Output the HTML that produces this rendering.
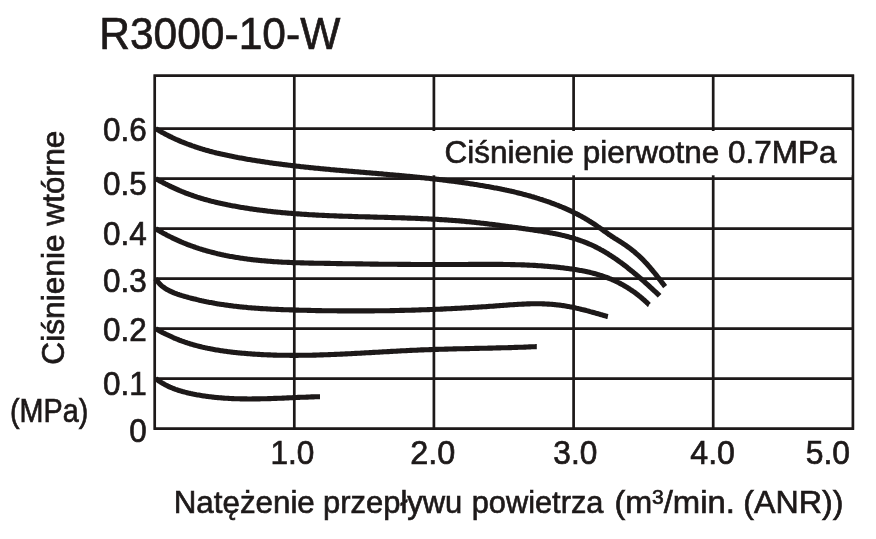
<!DOCTYPE html>
<html><head><meta charset="utf-8"><title>R3000-10-W</title>
<style>
html,body{margin:0;padding:0;background:#fff;}
body{width:876px;height:539px;overflow:hidden;}
svg{display:block;will-change:transform;}
text{font-family:"Liberation Sans",Arial,Helvetica,sans-serif;fill:#1d1919;stroke:#1d1919;stroke-width:0.65px;}
</style></head><body>
<svg width="876" height="539" viewBox="0 0 876 539">
<rect width="876" height="539" fill="#fff"/>
<path d="M154.7 74.4V429.8 M294.3 74.4V429.8 M433.9 74.4V429.8 M573.6 74.4V429.8 M713.2 74.4V429.8 M852.9 74.4V429.8 M153.5 75.6H854.1 M153.5 128.6H854.1 M153.5 178.6H854.1 M153.5 228.6H854.1 M153.5 278.6H854.1 M153.5 328.6H854.1 M153.5 378.6H854.1 M153.5 428.6H854.1" stroke="#1d1919" stroke-width="2.7" fill="none"/>
<rect x="400" y="131.0" width="451.5" height="44.3" fill="#fff"/>
<g stroke="#1d1919" stroke-width="5.1" fill="none" stroke-linecap="butt" stroke-linejoin="round">
<path d="M155.6 128.6 L156.6 129.2 L157.7 129.8 L158.7 130.4 L159.7 131.0 L160.8 131.6 L161.8 132.2 L162.9 132.8 L163.9 133.3 L165.0 133.9 L166.0 134.5 L167.1 135.0 L168.2 135.6 L169.3 136.1 L170.3 136.6 L171.4 137.1 L172.5 137.7 L173.6 138.2 L174.7 138.7 L175.7 139.2 L176.8 139.7 L177.9 140.1 L179.0 140.6 L180.1 141.1 L181.2 141.6 L182.4 142.0 L183.5 142.5 L184.6 142.9 L185.7 143.3 L186.8 143.8 L187.9 144.2 L189.1 144.6 L190.2 145.0 L191.3 145.4 L192.4 145.8 L193.6 146.2 L194.7 146.6 L195.8 147.0 L197.0 147.4 L198.1 147.8 L199.3 148.1 L200.4 148.5 L201.5 148.8 L202.7 149.2 L203.8 149.5 L205.0 149.9 L206.1 150.2 L207.3 150.5 L208.5 150.8 L209.6 151.2 L210.8 151.5 L211.9 151.8 L213.1 152.1 L214.3 152.4 L215.4 152.7 L216.6 153.0 L217.7 153.2 L218.9 153.5 L220.1 153.8 L221.3 154.1 L222.4 154.3 L223.6 154.6 L224.8 154.8 L225.9 155.1 L227.1 155.3 L228.3 155.6 L229.5 155.8 L230.6 156.1 L231.8 156.3 L233.0 156.5 L234.2 156.8 L235.3 157.0 L236.5 157.2 L237.7 157.5 L238.9 157.7 L240.1 157.9 L241.2 158.1 L242.4 158.3 L243.6 158.5 L244.8 158.7 L246.0 159.0 L247.1 159.2 L248.3 159.4 L249.5 159.6 L250.7 159.8 L251.9 160.0 L253.1 160.2 L254.2 160.3 L255.4 160.5 L256.6 160.7 L257.8 160.9 L259.0 161.1 L260.2 161.3 L261.4 161.5 L262.5 161.6 L263.7 161.8 L264.9 162.0 L266.1 162.2 L267.3 162.3 L268.5 162.5 L269.7 162.7 L270.9 162.9 L272.0 163.0 L273.2 163.2 L274.4 163.4 L275.6 163.5 L276.8 163.7 L278.0 163.8 L279.2 164.0 L280.4 164.1 L281.6 164.3 L282.7 164.5 L283.9 164.6 L285.1 164.8 L286.3 164.9 L287.5 165.0 L288.7 165.2 L289.9 165.3 L291.1 165.5 L292.3 165.6 L293.5 165.8 L294.7 165.9 L295.8 166.0 L297.0 166.2 L298.2 166.3 L299.4 166.4 L300.6 166.6 L301.8 166.7 L303.0 166.8 L304.2 167.0 L305.4 167.1 L306.6 167.2 L307.8 167.3 L309.0 167.5 L310.2 167.6 L311.4 167.7 L312.6 167.8 L313.7 168.0 L314.9 168.1 L316.1 168.2 L317.3 168.3 L318.5 168.4 L319.7 168.5 L320.9 168.7 L322.1 168.8 L323.3 168.9 L324.5 169.0 L325.7 169.1 L326.9 169.2 L328.1 169.3 L329.3 169.4 L330.5 169.6 L331.7 169.7 L332.9 169.8 L334.1 169.9 L335.2 170.0 L336.4 170.1 L337.6 170.2 L338.8 170.3 L340.0 170.4 L341.2 170.5 L342.4 170.6 L343.6 170.7 L344.8 170.8 L346.0 170.9 L347.2 171.0 L348.4 171.1 L349.6 171.2 L350.8 171.3 L352.0 171.4 L353.2 171.5 L354.4 171.6 L355.6 171.7 L356.8 171.8 L358.0 171.9 L359.2 172.0 L360.4 172.1 L361.6 172.2 L362.7 172.3 L363.9 172.4 L365.1 172.5 L366.3 172.6 L367.5 172.7 L368.7 172.8 L369.9 172.9 L371.1 173.0 L372.3 173.1 L373.5 173.2 L374.7 173.3 L375.9 173.4 L377.1 173.5 L378.3 173.6 L379.5 173.7 L380.7 173.8 L381.9 173.9 L383.1 174.0 L384.3 174.2 L385.5 174.3 L386.7 174.4 L387.9 174.5 L389.1 174.6 L390.2 174.7 L391.4 174.8 L392.6 174.9 L393.8 175.0 L395.0 175.1 L396.2 175.2 L397.4 175.3 L398.6 175.4 L399.8 175.5 L401.0 175.6 L402.2 175.7 L403.4 175.8 L404.6 176.0 L405.8 176.1 L407.0 176.2 L408.2 176.3 L409.4 176.4 L410.6 176.5 L411.8 176.6 L413.0 176.7 L414.1 176.9 L415.3 177.0 L416.5 177.1 L417.7 177.2 L418.9 177.3 L420.1 177.5 L421.3 177.6 L422.5 177.7 L423.7 177.8 L424.9 178.0 L426.1 178.1 L427.3 178.2 L428.5 178.3 L429.7 178.5 L430.9 178.6 L432.1 178.7 L433.2 178.9 L434.4 179.0 L435.6 179.1 L436.8 179.3 L438.0 179.4 L439.2 179.5 L440.4 179.7 L441.6 179.8 L442.8 180.0 L444.0 180.1 L445.2 180.3 L446.4 180.4 L447.5 180.6 L448.7 180.7 L449.9 180.9 L451.1 181.0 L452.3 181.2 L453.5 181.3 L454.7 181.5 L455.9 181.6 L457.1 181.8 L458.3 182.0 L459.4 182.1 L460.6 182.3 L461.8 182.5 L463.0 182.6 L464.2 182.8 L465.4 183.0 L466.6 183.1 L467.8 183.3 L468.9 183.5 L470.1 183.7 L471.3 183.9 L472.5 184.0 L473.7 184.2 L474.9 184.4 L476.1 184.6 L477.2 184.8 L478.4 185.0 L479.6 185.2 L480.8 185.4 L482.0 185.6 L483.2 185.8 L484.4 186.0 L485.5 186.2 L486.7 186.4 L487.9 186.6 L489.1 186.8 L490.3 187.0 L491.4 187.2 L492.6 187.4 L493.8 187.7 L495.0 187.9 L496.2 188.1 L497.3 188.3 L498.5 188.6 L499.7 188.8 L500.9 189.0 L502.0 189.3 L503.2 189.5 L504.4 189.8 L505.6 190.0 L506.7 190.3 L507.9 190.5 L509.1 190.8 L510.3 191.0 L511.4 191.3 L512.6 191.6 L513.8 191.8 L514.9 192.1 L516.1 192.4 L517.3 192.7 L518.4 193.0 L519.6 193.3 L520.8 193.6 L521.9 193.8 L523.1 194.2 L524.3 194.5 L525.4 194.8 L526.6 195.1 L527.7 195.4 L528.9 195.7 L530.0 196.0 L531.2 196.4 L532.4 196.7 L533.5 197.0 L534.7 197.4 L535.8 197.7 L537.0 198.1 L538.1 198.4 L539.2 198.8 L540.4 199.2 L541.5 199.5 L542.7 199.9 L543.8 200.3 L545.0 200.7 L546.1 201.1 L547.2 201.4 L548.4 201.8 L549.5 202.2 L550.6 202.6 L551.7 203.1 L552.9 203.5 L554.0 203.9 L555.1 204.3 L556.2 204.8 L557.4 205.2 L558.5 205.6 L559.6 206.1 L560.7 206.5 L561.8 207.0 L562.9 207.5 L564.0 207.9 L565.1 208.4 L566.2 208.9 L567.3 209.4 L568.4 209.9 L569.5 210.4 L570.6 210.9 L571.7 211.4 L572.8 211.9 L573.9 212.5 L574.9 213.0 L576.0 213.5 L577.1 214.1 L578.1 214.6 L579.2 215.2 L580.3 215.8 L581.3 216.3 L582.4 216.9 L583.4 217.5 L584.5 218.1 L585.5 218.7 L586.5 219.3 L587.6 219.9 L588.6 220.6 L589.6 221.2 L590.6 221.8 L591.7 222.5 L592.7 223.1 L593.7 223.8 L594.7 224.4 L595.7 225.1 L596.7 225.8 L597.7 226.5 L598.6 227.1 L599.6 227.8 L600.6 228.5 L601.6 229.2 L602.6 229.9 L603.5 230.6 L604.5 231.3 L605.5 232.0 L606.5 232.7 L607.5 233.4 L608.4 234.1 L609.4 234.8 L610.4 235.4 L611.4 236.1 L612.4 236.8 L613.4 237.4 L614.4 238.1 L615.4 238.7 L616.5 239.3 L617.5 240.0 L618.5 240.6 L619.5 241.2 L620.5 241.9 L621.5 242.5 L622.5 243.2 L623.5 243.9 L624.5 244.5 L625.5 245.2 L626.5 245.9 L627.5 246.6 L628.5 247.3 L629.4 248.0 L630.4 248.7 L631.4 249.5 L632.3 250.2 L633.2 251.0 L634.2 251.7 L635.1 252.5 L636.0 253.3 L636.9 254.1 L637.8 254.9 L638.7 255.7 L639.6 256.5 L640.5 257.4 L641.3 258.2 L642.2 259.0 L643.1 259.9 L643.9 260.8 L644.7 261.6 L645.5 262.5 L646.4 263.4 L647.2 264.3 L648.0 265.2 L648.8 266.1 L649.6 267.0 L650.3 267.9 L651.1 268.8 L651.9 269.8 L652.7 270.7 L653.4 271.6 L654.2 272.5 L655.0 273.5 L655.7 274.4 L656.5 275.4 L657.2 276.3 L657.9 277.2 L658.7 278.2 L659.4 279.1 L660.2 280.1 L660.9 281.1 L661.6 282.0 L662.3 283.0 L663.1 283.9 L663.8 284.9 L664.5 285.8 L665.1 286.6"/>
<path d="M155.6 178.6 L156.6 179.2 L157.7 179.8 L158.7 180.3 L159.8 180.9 L160.9 181.5 L161.9 182.0 L163.0 182.6 L164.0 183.1 L165.1 183.7 L166.2 184.2 L167.2 184.8 L168.3 185.3 L169.4 185.9 L170.5 186.4 L171.5 186.9 L172.6 187.4 L173.7 187.9 L174.8 188.4 L175.9 188.9 L177.0 189.4 L178.1 189.9 L179.2 190.4 L180.3 190.8 L181.4 191.3 L182.5 191.7 L183.6 192.2 L184.7 192.6 L185.8 193.1 L187.0 193.5 L188.1 193.9 L189.2 194.3 L190.3 194.7 L191.5 195.1 L192.6 195.5 L193.7 195.9 L194.9 196.3 L196.0 196.7 L197.1 197.1 L198.3 197.4 L199.4 197.8 L200.6 198.1 L201.7 198.5 L202.9 198.8 L204.0 199.2 L205.2 199.5 L206.3 199.8 L207.5 200.1 L208.7 200.4 L209.8 200.8 L211.0 201.1 L212.1 201.4 L213.3 201.6 L214.5 201.9 L215.6 202.2 L216.8 202.5 L218.0 202.8 L219.1 203.0 L220.3 203.3 L221.5 203.6 L222.6 203.8 L223.8 204.1 L225.0 204.3 L226.2 204.5 L227.3 204.8 L228.5 205.0 L229.7 205.2 L230.9 205.5 L232.1 205.7 L233.2 205.9 L234.4 206.1 L235.6 206.3 L236.8 206.6 L238.0 206.8 L239.1 207.0 L240.3 207.2 L241.5 207.4 L242.7 207.6 L243.9 207.8 L245.1 208.0 L246.2 208.1 L247.4 208.3 L248.6 208.5 L249.8 208.7 L251.0 208.9 L252.2 209.0 L253.4 209.2 L254.5 209.4 L255.7 209.5 L256.9 209.7 L258.1 209.9 L259.3 210.0 L260.5 210.2 L261.7 210.3 L262.9 210.5 L264.1 210.6 L265.3 210.8 L266.4 210.9 L267.6 211.1 L268.8 211.2 L270.0 211.3 L271.2 211.5 L272.4 211.6 L273.6 211.7 L274.8 211.9 L276.0 212.0 L277.2 212.1 L278.4 212.2 L279.6 212.3 L280.8 212.5 L282.0 212.6 L283.2 212.7 L284.3 212.8 L285.5 212.9 L286.7 213.0 L287.9 213.1 L289.1 213.2 L290.3 213.3 L291.5 213.4 L292.7 213.5 L293.9 213.6 L295.1 213.7 L296.3 213.8 L297.5 213.9 L298.7 213.9 L299.9 214.0 L301.1 214.1 L302.3 214.2 L303.5 214.3 L304.7 214.4 L305.9 214.4 L307.1 214.5 L308.3 214.6 L309.5 214.7 L310.7 214.7 L311.9 214.8 L313.1 214.9 L314.3 214.9 L315.5 215.0 L316.7 215.1 L317.9 215.1 L319.1 215.2 L320.3 215.2 L321.5 215.3 L322.7 215.4 L323.9 215.4 L325.1 215.5 L326.3 215.5 L327.5 215.6 L328.6 215.6 L329.8 215.7 L331.0 215.7 L332.2 215.8 L333.4 215.8 L334.6 215.9 L335.8 215.9 L337.0 216.0 L338.2 216.0 L339.4 216.1 L340.6 216.1 L341.8 216.1 L343.0 216.2 L344.2 216.2 L345.4 216.3 L346.6 216.3 L347.8 216.3 L349.0 216.4 L350.2 216.4 L351.4 216.4 L352.6 216.5 L353.8 216.5 L355.0 216.6 L356.2 216.6 L357.4 216.6 L358.6 216.7 L359.8 216.7 L361.0 216.7 L362.2 216.8 L363.4 216.8 L364.6 216.8 L365.8 216.9 L367.0 216.9 L368.2 216.9 L369.4 216.9 L370.6 217.0 L371.8 217.0 L373.0 217.0 L374.2 217.1 L375.4 217.1 L376.6 217.1 L377.8 217.2 L379.0 217.2 L380.2 217.2 L381.4 217.3 L382.6 217.3 L383.8 217.3 L385.0 217.4 L386.2 217.4 L387.4 217.4 L388.6 217.5 L389.8 217.5 L391.0 217.5 L392.2 217.6 L393.4 217.6 L394.6 217.6 L395.8 217.7 L397.0 217.7 L398.2 217.7 L399.4 217.8 L400.6 217.8 L401.8 217.9 L403.0 217.9 L404.2 217.9 L405.4 218.0 L406.6 218.0 L407.8 218.1 L409.0 218.1 L410.2 218.1 L411.4 218.2 L412.6 218.2 L413.8 218.3 L415.0 218.3 L416.2 218.4 L417.4 218.4 L418.6 218.5 L419.8 218.5 L421.0 218.6 L422.2 218.6 L423.4 218.7 L424.6 218.7 L425.8 218.8 L427.0 218.8 L428.2 218.9 L429.4 219.0 L430.6 219.0 L431.8 219.1 L433.0 219.1 L434.2 219.2 L435.4 219.3 L436.6 219.3 L437.8 219.4 L439.0 219.5 L440.2 219.6 L441.4 219.6 L442.6 219.7 L443.8 219.8 L445.0 219.9 L446.2 219.9 L447.4 220.0 L448.6 220.1 L449.8 220.2 L451.0 220.3 L452.1 220.4 L453.3 220.5 L454.5 220.5 L455.7 220.6 L456.9 220.7 L458.1 220.8 L459.3 220.9 L460.5 221.0 L461.7 221.1 L462.9 221.2 L464.1 221.3 L465.3 221.5 L466.5 221.6 L467.7 221.7 L468.9 221.8 L470.1 221.9 L471.3 222.0 L472.5 222.2 L473.7 222.3 L474.9 222.4 L476.1 222.5 L477.2 222.7 L478.4 222.8 L479.6 222.9 L480.8 223.1 L482.0 223.2 L483.2 223.3 L484.4 223.5 L485.6 223.6 L486.8 223.8 L488.0 223.9 L489.2 224.1 L490.4 224.2 L491.5 224.3 L492.7 224.5 L493.9 224.6 L495.1 224.8 L496.3 225.0 L497.5 225.1 L498.7 225.3 L499.9 225.4 L501.1 225.6 L502.3 225.7 L503.4 225.9 L504.6 226.0 L505.8 226.2 L507.0 226.4 L508.2 226.5 L509.4 226.7 L510.6 226.8 L511.8 227.0 L513.0 227.2 L514.2 227.3 L515.3 227.5 L516.5 227.6 L517.7 227.8 L518.9 228.0 L520.1 228.1 L521.3 228.3 L522.5 228.5 L523.7 228.6 L524.9 228.8 L526.0 229.0 L527.2 229.1 L528.4 229.3 L529.6 229.5 L530.8 229.6 L532.0 229.8 L533.2 230.0 L534.4 230.2 L535.5 230.4 L536.7 230.5 L537.9 230.7 L539.1 230.9 L540.3 231.1 L541.5 231.3 L542.7 231.5 L543.8 231.7 L545.0 231.9 L546.2 232.1 L547.4 232.3 L548.6 232.5 L549.8 232.7 L550.9 232.9 L552.1 233.1 L553.3 233.4 L554.5 233.6 L555.6 233.8 L556.8 234.1 L558.0 234.3 L559.2 234.6 L560.3 234.8 L561.5 235.1 L562.7 235.4 L563.9 235.6 L565.0 235.9 L566.2 236.2 L567.3 236.5 L568.5 236.8 L569.7 237.2 L570.8 237.5 L572.0 237.8 L573.1 238.1 L574.3 238.5 L575.4 238.9 L576.6 239.2 L577.7 239.6 L578.8 240.0 L580.0 240.4 L581.1 240.8 L582.2 241.2 L583.4 241.6 L584.5 242.0 L585.6 242.5 L586.7 242.9 L587.8 243.4 L588.9 243.9 L590.0 244.3 L591.1 244.8 L592.2 245.3 L593.3 245.8 L594.4 246.3 L595.5 246.9 L596.6 247.4 L597.6 248.0 L598.7 248.5 L599.8 249.1 L600.8 249.7 L601.9 250.2 L602.9 250.8 L604.0 251.4 L605.0 252.0 L606.0 252.7 L607.1 253.3 L608.1 253.9 L609.1 254.6 L610.1 255.2 L611.1 255.9 L612.1 256.5 L613.1 257.2 L614.1 257.8 L615.1 258.5 L616.1 259.2 L617.1 259.9 L618.1 260.6 L619.1 261.3 L620.0 262.0 L621.0 262.7 L622.0 263.4 L622.9 264.1 L623.9 264.9 L624.9 265.6 L625.8 266.3 L626.8 267.1 L627.7 267.8 L628.6 268.6 L629.6 269.3 L630.5 270.1 L631.5 270.8 L632.4 271.6 L633.3 272.3 L634.2 273.1 L635.2 273.9 L636.1 274.6 L637.0 275.4 L637.9 276.2 L638.8 277.0 L639.7 277.8 L640.7 278.5 L641.6 279.3 L642.5 280.1 L643.4 280.9 L644.3 281.7 L645.2 282.5 L646.1 283.3 L647.0 284.1 L647.9 284.9 L648.7 285.7 L649.6 286.5 L650.5 287.3 L651.4 288.1 L652.3 289.0 L653.2 289.8 L654.0 290.6 L654.9 291.4 L655.8 292.2 L656.7 293.0 L657.6 293.9 L658.4 294.7 L659.3 295.5 L659.6 295.8"/>
<path d="M155.6 228.6 L156.6 229.2 L157.6 229.9 L158.7 230.5 L159.7 231.1 L160.7 231.7 L161.8 232.3 L162.8 232.9 L163.9 233.5 L164.9 234.0 L166.0 234.6 L167.0 235.2 L168.1 235.7 L169.2 236.3 L170.2 236.8 L171.3 237.3 L172.4 237.9 L173.4 238.4 L174.5 238.9 L175.6 239.4 L176.7 239.9 L177.8 240.4 L178.9 240.9 L180.0 241.4 L181.1 241.9 L182.2 242.3 L183.3 242.8 L184.4 243.2 L185.5 243.7 L186.6 244.1 L187.7 244.6 L188.9 245.0 L190.0 245.4 L191.1 245.8 L192.2 246.2 L193.4 246.6 L194.5 247.0 L195.6 247.4 L196.8 247.8 L197.9 248.2 L199.0 248.6 L200.2 248.9 L201.3 249.3 L202.5 249.6 L203.6 250.0 L204.8 250.3 L205.9 250.6 L207.1 251.0 L208.2 251.3 L209.4 251.6 L210.6 251.9 L211.7 252.2 L212.9 252.5 L214.0 252.8 L215.2 253.1 L216.4 253.4 L217.5 253.7 L218.7 253.9 L219.9 254.2 L221.0 254.5 L222.2 254.7 L223.4 255.0 L224.6 255.2 L225.7 255.5 L226.9 255.7 L228.1 255.9 L229.3 256.2 L230.4 256.4 L231.6 256.6 L232.8 256.8 L234.0 257.0 L235.2 257.2 L236.4 257.4 L237.5 257.6 L238.7 257.8 L239.9 258.0 L241.1 258.2 L242.3 258.3 L243.5 258.5 L244.7 258.7 L245.8 258.8 L247.0 259.0 L248.2 259.2 L249.4 259.3 L250.6 259.5 L251.8 259.6 L253.0 259.7 L254.2 259.9 L255.4 260.0 L256.6 260.1 L257.8 260.3 L259.0 260.4 L260.1 260.5 L261.3 260.6 L262.5 260.7 L263.7 260.8 L264.9 260.9 L266.1 261.0 L267.3 261.1 L268.5 261.2 L269.7 261.3 L270.9 261.4 L272.1 261.5 L273.3 261.6 L274.5 261.7 L275.7 261.7 L276.9 261.8 L278.1 261.9 L279.3 262.0 L280.5 262.0 L281.7 262.1 L282.9 262.2 L284.1 262.2 L285.3 262.3 L286.5 262.3 L287.7 262.4 L288.9 262.4 L290.1 262.5 L291.3 262.5 L292.5 262.6 L293.7 262.6 L294.9 262.7 L296.1 262.7 L297.3 262.8 L298.5 262.8 L299.7 262.8 L300.9 262.9 L302.1 262.9 L303.3 262.9 L304.5 263.0 L305.7 263.0 L306.9 263.0 L308.1 263.0 L309.3 263.1 L310.5 263.1 L311.7 263.1 L312.9 263.1 L314.1 263.2 L315.3 263.2 L316.5 263.2 L317.7 263.2 L318.9 263.3 L320.1 263.3 L321.3 263.3 L322.5 263.3 L323.7 263.3 L324.9 263.4 L326.1 263.4 L327.3 263.4 L328.5 263.4 L329.7 263.4 L330.9 263.5 L332.1 263.5 L333.3 263.5 L334.5 263.5 L335.7 263.5 L336.9 263.6 L338.1 263.6 L339.3 263.6 L340.5 263.6 L341.7 263.6 L342.9 263.7 L344.1 263.7 L345.3 263.7 L346.5 263.7 L347.7 263.7 L348.9 263.8 L350.1 263.8 L351.3 263.8 L352.5 263.8 L353.7 263.8 L354.9 263.8 L356.1 263.9 L357.3 263.9 L358.5 263.9 L359.7 263.9 L360.9 263.9 L362.1 263.9 L363.3 264.0 L364.5 264.0 L365.7 264.0 L366.9 264.0 L368.1 264.0 L369.3 264.0 L370.5 264.1 L371.7 264.1 L372.9 264.1 L374.1 264.1 L375.3 264.1 L376.5 264.1 L377.7 264.1 L378.9 264.2 L380.1 264.2 L381.3 264.2 L382.5 264.2 L383.7 264.2 L384.9 264.2 L386.1 264.2 L387.3 264.3 L388.5 264.3 L389.7 264.3 L390.9 264.3 L392.1 264.3 L393.3 264.3 L394.5 264.3 L395.7 264.3 L396.9 264.3 L398.1 264.4 L399.3 264.4 L400.5 264.4 L401.7 264.4 L402.9 264.4 L404.1 264.4 L405.3 264.4 L406.5 264.4 L407.7 264.4 L408.9 264.4 L410.1 264.4 L411.3 264.5 L412.5 264.5 L413.7 264.5 L414.9 264.5 L416.1 264.5 L417.3 264.5 L418.5 264.5 L419.7 264.5 L420.9 264.5 L422.1 264.5 L423.3 264.5 L424.5 264.5 L425.7 264.5 L426.9 264.5 L428.1 264.5 L429.3 264.5 L430.5 264.5 L431.7 264.5 L432.9 264.5 L434.1 264.5 L435.3 264.5 L436.5 264.5 L437.7 264.5 L438.9 264.5 L440.1 264.5 L441.3 264.5 L442.5 264.5 L443.7 264.5 L444.9 264.5 L446.1 264.5 L447.3 264.5 L448.5 264.5 L449.7 264.5 L450.9 264.5 L452.1 264.5 L453.3 264.5 L454.5 264.5 L455.7 264.5 L456.9 264.5 L458.1 264.5 L459.3 264.5 L460.5 264.5 L461.7 264.5 L462.9 264.5 L464.1 264.5 L465.3 264.5 L466.5 264.5 L467.7 264.5 L468.9 264.4 L470.1 264.4 L471.3 264.4 L472.5 264.4 L473.7 264.4 L474.9 264.4 L476.1 264.4 L477.3 264.4 L478.5 264.4 L479.7 264.4 L480.9 264.4 L482.1 264.4 L483.3 264.4 L484.5 264.4 L485.7 264.4 L486.9 264.4 L488.1 264.4 L489.3 264.4 L490.5 264.4 L491.7 264.4 L492.9 264.4 L494.1 264.4 L495.3 264.4 L496.5 264.4 L497.7 264.4 L498.9 264.4 L500.1 264.4 L501.3 264.4 L502.5 264.4 L503.7 264.5 L504.9 264.5 L506.1 264.5 L507.3 264.5 L508.5 264.5 L509.7 264.5 L510.9 264.6 L512.1 264.6 L513.3 264.6 L514.5 264.6 L515.7 264.7 L516.9 264.7 L518.0 264.7 L519.2 264.8 L520.4 264.8 L521.6 264.9 L522.8 264.9 L524.0 264.9 L525.2 265.0 L526.4 265.0 L527.6 265.1 L528.8 265.1 L530.0 265.2 L531.2 265.3 L532.4 265.3 L533.6 265.4 L534.8 265.4 L536.0 265.5 L537.2 265.6 L538.4 265.7 L539.6 265.7 L540.8 265.8 L542.0 265.9 L543.2 266.0 L544.4 266.1 L545.6 266.2 L546.8 266.3 L548.0 266.4 L549.2 266.5 L550.4 266.6 L551.6 266.7 L552.8 266.8 L554.0 266.9 L555.2 267.0 L556.4 267.1 L557.6 267.3 L558.8 267.4 L559.9 267.5 L561.1 267.7 L562.3 267.8 L563.5 267.9 L564.7 268.1 L565.9 268.2 L567.1 268.4 L568.3 268.5 L569.5 268.7 L570.7 268.9 L571.9 269.0 L573.0 269.2 L574.2 269.4 L575.4 269.6 L576.6 269.8 L577.8 270.0 L579.0 270.2 L580.1 270.4 L581.3 270.6 L582.5 270.8 L583.7 271.1 L584.9 271.3 L586.0 271.5 L587.2 271.8 L588.4 272.1 L589.6 272.3 L590.7 272.6 L591.9 272.9 L593.1 273.2 L594.2 273.5 L595.4 273.8 L596.5 274.1 L597.7 274.5 L598.8 274.8 L600.0 275.2 L601.1 275.5 L602.3 275.9 L603.4 276.3 L604.5 276.7 L605.7 277.1 L606.8 277.5 L607.9 277.9 L609.0 278.4 L610.2 278.8 L611.3 279.3 L612.4 279.8 L613.5 280.2 L614.6 280.7 L615.7 281.2 L616.8 281.8 L617.8 282.3 L618.9 282.8 L620.0 283.4 L621.0 283.9 L622.1 284.5 L623.2 285.1 L624.2 285.7 L625.2 286.3 L626.3 286.9 L627.3 287.5 L628.3 288.2 L629.3 288.8 L630.3 289.5 L631.3 290.2 L632.3 290.8 L633.3 291.5 L634.3 292.2 L635.3 292.9 L636.2 293.7 L637.2 294.4 L638.2 295.1 L639.1 295.9 L640.0 296.6 L641.0 297.4 L641.9 298.2 L642.8 299.0 L643.7 299.7 L644.6 300.5 L645.5 301.4 L646.4 302.2 L647.3 303.0 L648.1 303.8 L649.0 304.7 L649.2 304.8"/>
<path d="M155.6 278.6 L156.2 279.6 L156.9 280.5 L157.6 281.5 L158.4 282.4 L159.1 283.3 L159.9 284.1 L160.8 285.0 L161.6 285.8 L162.6 286.5 L163.5 287.2 L164.5 287.9 L165.5 288.6 L166.5 289.2 L167.5 289.8 L168.5 290.3 L169.6 290.9 L170.7 291.4 L171.8 291.9 L172.9 292.4 L174.0 292.9 L175.1 293.3 L176.2 293.7 L177.3 294.1 L178.5 294.5 L179.6 294.9 L180.7 295.2 L181.9 295.6 L183.0 295.9 L184.2 296.3 L185.3 296.6 L186.5 296.9 L187.6 297.2 L188.8 297.6 L190.0 297.9 L191.1 298.2 L192.3 298.5 L193.4 298.8 L194.6 299.1 L195.8 299.3 L196.9 299.6 L198.1 299.9 L199.3 300.2 L200.4 300.4 L201.6 300.7 L202.8 300.9 L204.0 301.2 L205.1 301.4 L206.3 301.7 L207.5 301.9 L208.7 302.2 L209.8 302.4 L211.0 302.6 L212.2 302.8 L213.4 303.0 L214.6 303.3 L215.7 303.5 L216.9 303.7 L218.1 303.9 L219.3 304.1 L220.5 304.2 L221.7 304.4 L222.8 304.6 L224.0 304.8 L225.2 305.0 L226.4 305.1 L227.6 305.3 L228.8 305.5 L230.0 305.6 L231.2 305.8 L232.4 305.9 L233.5 306.1 L234.7 306.2 L235.9 306.3 L237.1 306.5 L238.3 306.6 L239.5 306.7 L240.7 306.9 L241.9 307.0 L243.1 307.1 L244.3 307.2 L245.5 307.3 L246.7 307.4 L247.9 307.6 L249.1 307.7 L250.3 307.8 L251.4 307.9 L252.6 308.0 L253.8 308.0 L255.0 308.1 L256.2 308.2 L257.4 308.3 L258.6 308.4 L259.8 308.5 L261.0 308.6 L262.2 308.6 L263.4 308.7 L264.6 308.8 L265.8 308.8 L267.0 308.9 L268.2 309.0 L269.4 309.0 L270.6 309.1 L271.8 309.2 L273.0 309.2 L274.2 309.3 L275.4 309.3 L276.6 309.4 L277.8 309.4 L279.0 309.5 L280.2 309.5 L281.4 309.6 L282.6 309.6 L283.8 309.7 L285.0 309.7 L286.2 309.8 L287.4 309.8 L288.6 309.8 L289.8 309.9 L291.0 309.9 L292.2 309.9 L293.4 310.0 L294.6 310.0 L295.8 310.1 L297.0 310.1 L298.2 310.1 L299.4 310.2 L300.6 310.2 L301.8 310.2 L303.0 310.3 L304.2 310.3 L305.4 310.3 L306.6 310.3 L307.8 310.4 L309.0 310.4 L310.2 310.4 L311.4 310.5 L312.6 310.5 L313.8 310.5 L315.0 310.5 L316.2 310.6 L317.4 310.6 L318.6 310.6 L319.8 310.6 L321.0 310.6 L322.2 310.7 L323.4 310.7 L324.6 310.7 L325.8 310.7 L327.0 310.7 L328.2 310.7 L329.4 310.8 L330.6 310.8 L331.8 310.8 L333.0 310.8 L334.2 310.8 L335.4 310.8 L336.6 310.8 L337.8 310.9 L339.0 310.9 L340.2 310.9 L341.4 310.9 L342.6 310.9 L343.8 310.9 L345.0 310.9 L346.2 310.9 L347.4 310.9 L348.6 310.9 L349.8 310.9 L351.0 310.9 L352.2 310.9 L353.4 310.9 L354.6 310.9 L355.8 310.9 L357.0 310.9 L358.2 310.9 L359.4 310.9 L360.6 310.9 L361.8 310.9 L363.0 310.9 L364.2 310.9 L365.4 310.9 L366.6 310.9 L367.8 310.9 L369.0 310.9 L370.2 310.9 L371.4 310.9 L372.6 310.9 L373.8 310.9 L375.0 310.8 L376.2 310.8 L377.4 310.8 L378.6 310.8 L379.8 310.8 L381.0 310.8 L382.2 310.8 L383.4 310.7 L384.6 310.7 L385.8 310.7 L387.0 310.7 L388.2 310.7 L389.4 310.7 L390.6 310.6 L391.8 310.6 L393.0 310.6 L394.2 310.6 L395.4 310.5 L396.6 310.5 L397.8 310.5 L399.0 310.5 L400.2 310.4 L401.4 310.4 L402.6 310.4 L403.8 310.4 L405.0 310.3 L406.2 310.3 L407.4 310.3 L408.6 310.2 L409.8 310.2 L411.0 310.2 L412.2 310.1 L413.4 310.1 L414.6 310.1 L415.8 310.0 L417.0 310.0 L418.2 310.0 L419.4 309.9 L420.6 309.9 L421.8 309.8 L423.0 309.8 L424.2 309.8 L425.4 309.7 L426.6 309.7 L427.8 309.6 L429.0 309.6 L430.2 309.5 L431.4 309.5 L432.6 309.5 L433.8 309.4 L435.0 309.4 L436.2 309.3 L437.4 309.3 L438.6 309.2 L439.8 309.2 L441.0 309.1 L442.2 309.1 L443.4 309.0 L444.5 308.9 L445.7 308.9 L446.9 308.8 L448.1 308.8 L449.3 308.7 L450.5 308.7 L451.7 308.6 L452.9 308.5 L454.1 308.5 L455.3 308.4 L456.5 308.4 L457.7 308.3 L458.9 308.2 L460.1 308.2 L461.3 308.1 L462.5 308.0 L463.7 308.0 L464.9 307.9 L466.1 307.8 L467.3 307.8 L468.5 307.7 L469.7 307.6 L470.9 307.6 L472.1 307.5 L473.3 307.4 L474.5 307.3 L475.7 307.3 L476.9 307.2 L478.1 307.1 L479.3 307.0 L480.5 307.0 L481.7 306.9 L482.9 306.8 L484.1 306.7 L485.3 306.7 L486.5 306.6 L487.7 306.5 L488.9 306.4 L490.1 306.3 L491.3 306.2 L492.5 306.2 L493.7 306.1 L494.9 306.0 L496.1 305.9 L497.3 305.8 L498.5 305.7 L499.6 305.6 L500.8 305.5 L502.0 305.5 L503.2 305.4 L504.4 305.3 L505.6 305.2 L506.8 305.1 L508.0 305.0 L509.2 304.9 L510.4 304.8 L511.6 304.8 L512.8 304.7 L514.0 304.6 L515.2 304.5 L516.4 304.5 L517.6 304.4 L518.8 304.3 L520.0 304.3 L521.2 304.2 L522.4 304.1 L523.6 304.1 L524.8 304.0 L526.0 304.0 L527.2 303.9 L528.4 303.9 L529.6 303.9 L530.8 303.8 L532.0 303.8 L533.2 303.8 L534.4 303.8 L535.6 303.8 L536.8 303.8 L538.0 303.8 L539.2 303.8 L540.4 303.8 L541.6 303.8 L542.8 303.9 L544.0 303.9 L545.2 304.0 L546.4 304.0 L547.6 304.1 L548.8 304.1 L550.0 304.2 L551.2 304.3 L552.4 304.4 L553.6 304.5 L554.8 304.6 L556.0 304.7 L557.2 304.9 L558.4 305.0 L559.5 305.1 L560.7 305.3 L561.9 305.5 L563.1 305.6 L564.3 305.8 L565.5 306.0 L566.7 306.2 L567.8 306.4 L569.0 306.6 L570.2 306.9 L571.4 307.1 L572.6 307.3 L573.7 307.6 L574.9 307.8 L576.1 308.1 L577.3 308.4 L578.4 308.6 L579.6 308.9 L580.8 309.2 L581.9 309.5 L583.1 309.7 L584.3 310.0 L585.4 310.3 L586.6 310.6 L587.7 310.9 L588.9 311.2 L590.1 311.6 L591.2 311.9 L592.4 312.2 L593.5 312.5 L594.7 312.8 L595.9 313.2 L597.0 313.5 L598.2 313.8 L599.3 314.1 L600.5 314.5 L601.6 314.8 L602.8 315.1 L603.9 315.5 L605.1 315.8 L606.2 316.1 L607.4 316.5 L607.9 316.6"/>
<path d="M155.6 328.6 L156.6 329.2 L157.7 329.8 L158.7 330.4 L159.8 331.0 L160.8 331.6 L161.9 332.1 L162.9 332.7 L164.0 333.2 L165.1 333.8 L166.1 334.3 L167.2 334.8 L168.3 335.3 L169.4 335.8 L170.5 336.3 L171.6 336.8 L172.6 337.3 L173.7 337.8 L174.9 338.3 L176.0 338.7 L177.1 339.2 L178.2 339.6 L179.3 340.1 L180.4 340.5 L181.5 340.9 L182.7 341.3 L183.8 341.7 L184.9 342.1 L186.1 342.5 L187.2 342.9 L188.3 343.2 L189.5 343.6 L190.6 344.0 L191.8 344.3 L192.9 344.6 L194.1 345.0 L195.2 345.3 L196.4 345.6 L197.5 345.9 L198.7 346.2 L199.9 346.5 L201.0 346.8 L202.2 347.1 L203.4 347.4 L204.5 347.6 L205.7 347.9 L206.9 348.1 L208.1 348.4 L209.2 348.6 L210.4 348.8 L211.6 349.1 L212.8 349.3 L213.9 349.5 L215.1 349.7 L216.3 349.9 L217.5 350.1 L218.7 350.3 L219.9 350.5 L221.0 350.7 L222.2 350.8 L223.4 351.0 L224.6 351.2 L225.8 351.3 L227.0 351.5 L228.2 351.7 L229.4 351.8 L230.6 352.0 L231.8 352.1 L232.9 352.2 L234.1 352.4 L235.3 352.5 L236.5 352.6 L237.7 352.7 L238.9 352.9 L240.1 353.0 L241.3 353.1 L242.5 353.2 L243.7 353.3 L244.9 353.4 L246.1 353.5 L247.3 353.6 L248.5 353.7 L249.7 353.8 L250.9 353.9 L252.1 354.0 L253.3 354.1 L254.5 354.1 L255.7 354.2 L256.8 354.3 L258.0 354.4 L259.2 354.4 L260.4 354.5 L261.6 354.6 L262.8 354.6 L264.0 354.7 L265.2 354.7 L266.4 354.8 L267.6 354.9 L268.8 354.9 L270.0 354.9 L271.2 355.0 L272.4 355.0 L273.6 355.1 L274.8 355.1 L276.0 355.1 L277.2 355.2 L278.4 355.2 L279.6 355.2 L280.8 355.2 L282.0 355.3 L283.2 355.3 L284.4 355.3 L285.6 355.3 L286.8 355.3 L288.0 355.3 L289.2 355.3 L290.4 355.4 L291.6 355.4 L292.8 355.4 L294.0 355.4 L295.2 355.4 L296.4 355.4 L297.6 355.4 L298.8 355.3 L300.0 355.3 L301.2 355.3 L302.4 355.3 L303.6 355.3 L304.8 355.3 L306.0 355.3 L307.2 355.2 L308.4 355.2 L309.6 355.2 L310.8 355.2 L312.0 355.2 L313.2 355.1 L314.4 355.1 L315.6 355.1 L316.8 355.0 L318.0 355.0 L319.2 355.0 L320.4 354.9 L321.6 354.9 L322.8 354.9 L324.0 354.8 L325.2 354.8 L326.4 354.7 L327.6 354.7 L328.8 354.6 L330.0 354.6 L331.2 354.5 L332.4 354.5 L333.6 354.5 L334.8 354.4 L336.0 354.4 L337.2 354.3 L338.4 354.2 L339.6 354.2 L340.8 354.1 L342.0 354.1 L343.2 354.0 L344.4 354.0 L345.6 353.9 L346.8 353.9 L348.0 353.8 L349.2 353.7 L350.4 353.7 L351.6 353.6 L352.8 353.5 L354.0 353.5 L355.2 353.4 L356.4 353.4 L357.6 353.3 L358.8 353.2 L360.0 353.2 L361.2 353.1 L362.4 353.0 L363.6 353.0 L364.8 352.9 L366.0 352.8 L367.2 352.8 L368.4 352.7 L369.6 352.6 L370.8 352.6 L372.0 352.5 L373.2 352.4 L374.4 352.4 L375.6 352.3 L376.8 352.2 L378.0 352.2 L379.2 352.1 L380.4 352.0 L381.5 352.0 L382.7 351.9 L383.9 351.8 L385.1 351.8 L386.3 351.7 L387.5 351.6 L388.7 351.6 L389.9 351.5 L391.1 351.4 L392.3 351.4 L393.5 351.3 L394.7 351.2 L395.9 351.2 L397.1 351.1 L398.3 351.0 L399.5 351.0 L400.7 350.9 L401.9 350.8 L403.1 350.8 L404.3 350.7 L405.5 350.7 L406.7 350.6 L407.9 350.5 L409.1 350.5 L410.3 350.4 L411.5 350.4 L412.7 350.3 L413.9 350.3 L415.1 350.2 L416.3 350.2 L417.5 350.1 L418.7 350.0 L419.9 350.0 L421.1 349.9 L422.3 349.9 L423.5 349.9 L424.7 349.8 L425.9 349.8 L427.1 349.7 L428.3 349.7 L429.5 349.6 L430.7 349.6 L431.9 349.5 L433.1 349.5 L434.3 349.5 L435.5 349.4 L436.7 349.4 L437.9 349.4 L439.1 349.3 L440.3 349.3 L441.5 349.2 L442.7 349.2 L443.9 349.2 L445.1 349.1 L446.3 349.1 L447.5 349.1 L448.7 349.0 L449.9 349.0 L451.1 349.0 L452.3 349.0 L453.5 348.9 L454.7 348.9 L455.9 348.9 L457.1 348.8 L458.3 348.8 L459.5 348.8 L460.7 348.8 L461.9 348.7 L463.1 348.7 L464.3 348.7 L465.5 348.6 L466.7 348.6 L467.9 348.6 L469.1 348.6 L470.3 348.5 L471.5 348.5 L472.7 348.5 L473.9 348.5 L475.1 348.4 L476.3 348.4 L477.5 348.4 L478.7 348.4 L479.9 348.3 L481.1 348.3 L482.3 348.3 L483.5 348.2 L484.7 348.2 L485.9 348.2 L487.1 348.2 L488.3 348.1 L489.5 348.1 L490.7 348.1 L491.9 348.1 L493.1 348.0 L494.3 348.0 L495.5 348.0 L496.7 347.9 L497.9 347.9 L499.1 347.9 L500.3 347.9 L501.5 347.8 L502.7 347.8 L503.9 347.8 L505.1 347.7 L506.3 347.7 L507.5 347.7 L508.7 347.6 L509.9 347.6 L511.1 347.6 L512.3 347.5 L513.5 347.5 L514.7 347.4 L515.9 347.4 L517.1 347.4 L518.3 347.3 L519.5 347.3 L520.7 347.2 L521.9 347.2 L523.1 347.2 L524.3 347.1 L525.5 347.1 L526.7 347.0 L527.9 347.0 L529.1 346.9 L530.3 346.9 L531.5 346.8 L532.6 346.8 L533.8 346.7 L535.0 346.7 L536.2 346.6 L536.8 346.6"/>
<path d="M155.6 378.6 L156.6 379.3 L157.5 380.0 L158.5 380.7 L159.5 381.3 L160.5 382.0 L161.5 382.6 L162.5 383.2 L163.6 383.8 L164.6 384.4 L165.7 385.0 L166.7 385.5 L167.8 386.1 L168.9 386.6 L170.0 387.1 L171.1 387.5 L172.2 388.0 L173.3 388.5 L174.4 388.9 L175.5 389.3 L176.7 389.7 L177.8 390.1 L178.9 390.5 L180.1 390.8 L181.2 391.1 L182.4 391.5 L183.5 391.8 L184.7 392.1 L185.9 392.4 L187.0 392.7 L188.2 393.0 L189.4 393.2 L190.5 393.5 L191.7 393.7 L192.9 394.0 L194.0 394.2 L195.2 394.4 L196.4 394.7 L197.6 394.9 L198.8 395.1 L199.9 395.3 L201.1 395.5 L202.3 395.7 L203.5 395.9 L204.7 396.0 L205.9 396.2 L207.1 396.4 L208.2 396.5 L209.4 396.7 L210.6 396.8 L211.8 397.0 L213.0 397.1 L214.2 397.2 L215.4 397.4 L216.6 397.5 L217.8 397.6 L219.0 397.7 L220.2 397.8 L221.4 397.9 L222.6 398.0 L223.8 398.1 L225.0 398.2 L226.2 398.3 L227.4 398.3 L228.6 398.4 L229.7 398.5 L230.9 398.5 L232.1 398.6 L233.3 398.6 L234.5 398.7 L235.7 398.7 L236.9 398.8 L238.1 398.8 L239.3 398.8 L240.5 398.9 L241.7 398.9 L242.9 398.9 L244.1 398.9 L245.3 398.9 L246.5 398.9 L247.7 399.0 L248.9 399.0 L250.1 399.0 L251.3 399.0 L252.5 398.9 L253.7 398.9 L254.9 398.9 L256.1 398.9 L257.3 398.9 L258.5 398.9 L259.7 398.9 L260.9 398.8 L262.1 398.8 L263.3 398.8 L264.5 398.7 L265.7 398.7 L266.9 398.7 L268.1 398.6 L269.3 398.6 L270.5 398.6 L271.7 398.5 L272.9 398.5 L274.1 398.4 L275.3 398.4 L276.5 398.4 L277.7 398.3 L278.9 398.3 L280.1 398.2 L281.3 398.2 L282.5 398.1 L283.7 398.1 L284.9 398.0 L286.1 398.0 L287.3 397.9 L288.5 397.9 L289.7 397.8 L290.9 397.7 L292.1 397.7 L293.3 397.6 L294.5 397.6 L295.7 397.5 L296.9 397.5 L298.1 397.4 L299.3 397.4 L300.5 397.3 L301.7 397.3 L302.9 397.2 L304.1 397.2 L305.3 397.2 L306.5 397.1 L307.7 397.1 L308.9 397.0 L310.1 397.0 L311.3 396.9 L312.5 396.9 L313.7 396.9 L314.9 396.8 L316.1 396.8 L317.3 396.8 L318.5 396.7 L319.7 396.7 L320.0 396.7"/>
</g>
<text transform="translate(99.21 48.80) scale(0.9985 1.0610)" font-size="42.60">R3000-10-W</text>
<text transform="translate(103.09 140.78) scale(1 1.0450)" font-size="31.5">0.6</text>
<text transform="translate(103.09 194.88) scale(1 1.0450)" font-size="31.5">0.5</text>
<text transform="translate(103.09 244.68) scale(1 1.0450)" font-size="31.5">0.4</text>
<text transform="translate(103.09 291.68) scale(1 1.0450)" font-size="31.5">0.3</text>
<text transform="translate(103.09 340.58) scale(1 1.0450)" font-size="31.5">0.2</text>
<text transform="translate(103.09 394.58) scale(1 1.0450)" font-size="31.5">0.1</text>
<text transform="translate(129.37 441.88) scale(1 1.0450)" font-size="31.5">0</text>
<text transform="translate(270.39 463.78) scale(1.0035 1.0450)" font-size="31.50">1.0</text>
<text transform="translate(410.17 463.78) scale(1.0299 1.0450)" font-size="31.50">2.0</text>
<text transform="translate(553.29 463.78) scale(1.0058 1.0450)" font-size="31.50">3.0</text>
<text transform="translate(690.26 463.78) scale(1.0207 1.0450)" font-size="31.50">4.0</text>
<text transform="translate(805.72 463.78) scale(1.0122 1.0450)" font-size="31.50">5.0</text>
<text transform="translate(63.6 364.71) rotate(-90) scale(1.0054 0.97)" font-size="31.5">Ciśnienie wtórne</text>
<text transform="translate(10.02 421.60) scale(0.9427 1.0600)" font-size="30.50">(MPa)</text>
<text transform="translate(444.50 162.70) scale(0.9995 1.0000)" font-size="31.50">Ciśnienie pierwotne 0.7MPa</text>
<text transform="translate(173.73 512.70) scale(0.9945 1.0000)" font-size="31.50">Natężenie</text>
<text transform="translate(323.00 512.70) scale(0.9826 1.0000)" font-size="31.50">przepływu</text>
<text transform="translate(471.72 512.70) scale(0.9775 1.0000)" font-size="31.50">powietrza</text>
<text transform="translate(614.49 512.70) scale(1.0275 1.0000)" font-size="31.50">(m</text>
<text transform="translate(663.80 512.70) scale(1.0398 1.0000)" font-size="31.50">/</text>
<text transform="translate(672.82 512.70) scale(1.0433 1.0000)" font-size="31.50">min.</text>
<text transform="translate(743.30 512.70) scale(1.0216 1.0000)" font-size="31.50">(ANR))</text>
<text transform="translate(652.10 503.80) scale(1.0441 1.0000)" font-size="20.20">3</text>
</svg>
</body></html>
